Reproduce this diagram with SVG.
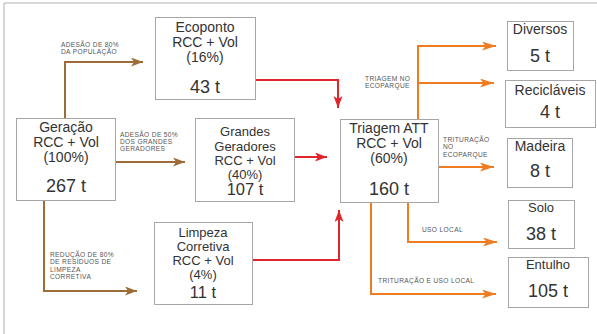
<svg xmlns="http://www.w3.org/2000/svg" width="597" height="334" viewBox="0 0 597 334">
<style>
.box{fill:#fff;stroke:#a6a6a6;stroke-width:1}
.t{font-family:"Liberation Sans",Arial,sans-serif;font-size:14px;fill:#333;text-anchor:middle}
.c{font-family:"Liberation Sans",Arial,sans-serif;font-size:13px;fill:#333;text-anchor:middle}
.n{font-family:"Liberation Sans",Arial,sans-serif;font-size:18px;fill:#333;text-anchor:middle}
.m{font-family:"Liberation Sans",Arial,sans-serif;font-size:16.5px;fill:#333;text-anchor:middle}
.s{font-family:"Liberation Sans",Arial,sans-serif;font-size:13px;fill:#333;text-anchor:middle}
.l{font-family:"Liberation Sans",Arial,sans-serif;font-size:6.6px;letter-spacing:0.35px;fill:#555}
.br{fill:none;stroke:#9e6c36;stroke-width:2}
.rd{fill:none;stroke:#e2252a;stroke-width:2}
.or{fill:none;stroke:#f07c22;stroke-width:2}
</style>
<defs>
<marker id="ab" markerUnits="userSpaceOnUse" markerWidth="13" markerHeight="10" refX="12" refY="4.5" orient="auto"><path d="M0,0 L12,4.5 L0,9 L3,4.5 z" fill="#9e6c36"/></marker>
<marker id="ar" markerUnits="userSpaceOnUse" markerWidth="13" markerHeight="10" refX="12" refY="4.5" orient="auto"><path d="M0,0 L12,4.5 L0,9 L3,4.5 z" fill="#e2252a"/></marker>
<marker id="ao" markerUnits="userSpaceOnUse" markerWidth="15" markerHeight="10" refX="14" refY="4.5" orient="auto"><path d="M0,0 L14,4.5 L0,9 L3.5,4.5 z" fill="#f07c22"/></marker>
</defs>
<rect width="597" height="334" fill="#fff"/>
<path d="M4,334 V3 H597" fill="none" stroke="#b0b0b0" stroke-width="1"/>
<g id="connectors">
<path class="br" d="M65,118 V62 H143" marker-end="url(#ab)"/>
<path class="br" d="M115,162 H185" marker-end="url(#ab)"/>
<path class="br" d="M44,200 V291 H137" marker-end="url(#ab)"/>
<path class="rd" d="M255,80 H338 V108" marker-end="url(#ar)"/>
<path class="rd" d="M294,157 H327" marker-end="url(#ar)"/>
<path class="rd" d="M252,260 H339 V210" marker-end="url(#ar)"/>
<path class="or" d="M418,119 V46 H496" marker-end="url(#ao)"/>
<path class="or" d="M418,83 H494" marker-end="url(#ao)"/>
<path class="or" d="M438,167 H494" marker-end="url(#ao)"/>
<path class="or" d="M408,202 V242 H497" marker-end="url(#ao)"/>
<path class="or" d="M371,202 V294 H496" marker-end="url(#ao)"/>
<text class="l" x="61" y="47">ADESÃO DE 80%</text>
<text class="l" x="61" y="54">DA POPULAÇÃO</text>
<text class="l" x="120" y="137">ADESÃO DE 50%</text>
<text class="l" x="120" y="144">DOS GRANDES</text>
<text class="l" x="120" y="151">GERADORES</text>
<text class="l" x="50" y="257">REDUÇÃO DE 80%</text>
<text class="l" x="50" y="264">DE RESÍDUOS DE</text>
<text class="l" x="50" y="272">LIMPEZA</text>
<text class="l" x="50" y="279">CORRETIVA</text>
<text class="l" x="365" y="81">TRIAGEM NO</text>
<text class="l" x="365" y="88">ECOPARQUE</text>
<text class="l" x="443" y="142">TRITURAÇÃO</text>
<text class="l" x="443" y="149">NO</text>
<text class="l" x="443" y="157">ECOPARQUE</text>
<text class="l" x="422" y="232">USO LOCAL</text>
<text class="l" x="378" y="283">TRITURAÇÃO E USO LOCAL</text>
</g>
<g id="ecoponto">
<rect class="box" x="155.5" y="17.5" width="100" height="82"/>
<text class="t" x="205" y="32">Ecoponto</text>
<text class="t" x="205" y="47">RCC + Vol</text>
<text class="t" x="205" y="62">(16%)</text>
<text class="n" x="205" y="93">43 t</text>
</g>
<g id="geracao">
<rect class="box" x="16.5" y="118.5" width="99" height="82"/>
<text class="t" x="66" y="132">Geração</text>
<text class="t" x="66" y="147">RCC + Vol</text>
<text class="t" x="66" y="162">(100%)</text>
<text class="n" x="66" y="192">267 t</text>
</g>
<g id="grandes">
<rect class="box" x="195.5" y="118.5" width="99" height="83"/>
<text class="c" x="245" y="136">Grandes</text>
<text class="c" x="245" y="150.5">Geradores</text>
<text class="c" x="245" y="165">RCC + Vol</text>
<text class="c" x="245" y="178.5">(40%)</text>
<text class="m" x="245" y="195">107 t</text>
</g>
<g id="limpeza">
<rect class="box" x="154.5" y="222.5" width="98" height="82"/>
<text class="c" x="203" y="237">Limpeza</text>
<text class="c" x="203" y="251">Corretiva</text>
<text class="c" x="203" y="265">RCC + Vol</text>
<text class="c" x="203" y="279">(4%)</text>
<text class="m" x="203" y="297.5">11 t</text>
</g>
<g id="triagem">
<rect class="box" x="340.5" y="119.5" width="98" height="83"/>
<text class="t" x="389" y="133">Triagem ATT</text>
<text class="t" x="389" y="148">RCC + Vol</text>
<text class="t" x="389" y="163">(60%)</text>
<text class="n" x="389" y="195">160 t</text>
</g>
<g id="diversos">
<rect class="box" x="507.5" y="21.5" width="66" height="49"/>
<text class="t" x="540" y="34">Diversos</text>
<text class="n" x="540" y="62">5 t</text>
</g>
<g id="reciclaveis">
<rect class="box" x="505.5" y="80.5" width="90" height="47"/>
<text class="t" x="550" y="95">Recicláveis</text>
<text class="n" x="550" y="118">4 t</text>
</g>
<g id="madeira">
<rect class="box" x="507.5" y="138.5" width="65" height="49"/>
<text class="t" x="540" y="151">Madeira</text>
<text class="n" x="540" y="177">8 t</text>
</g>
<g id="solo">
<rect class="box" x="508.5" y="200.5" width="66" height="48"/>
<text class="s" x="541" y="212">Solo</text>
<text class="n" x="541" y="240">38 t</text>
</g>
<g id="entulho">
<rect class="box" x="508.5" y="257.5" width="80" height="50"/>
<text class="s" x="548" y="269">Entulho</text>
<text class="n" x="548" y="297">105 t</text>
</g>
</svg>
